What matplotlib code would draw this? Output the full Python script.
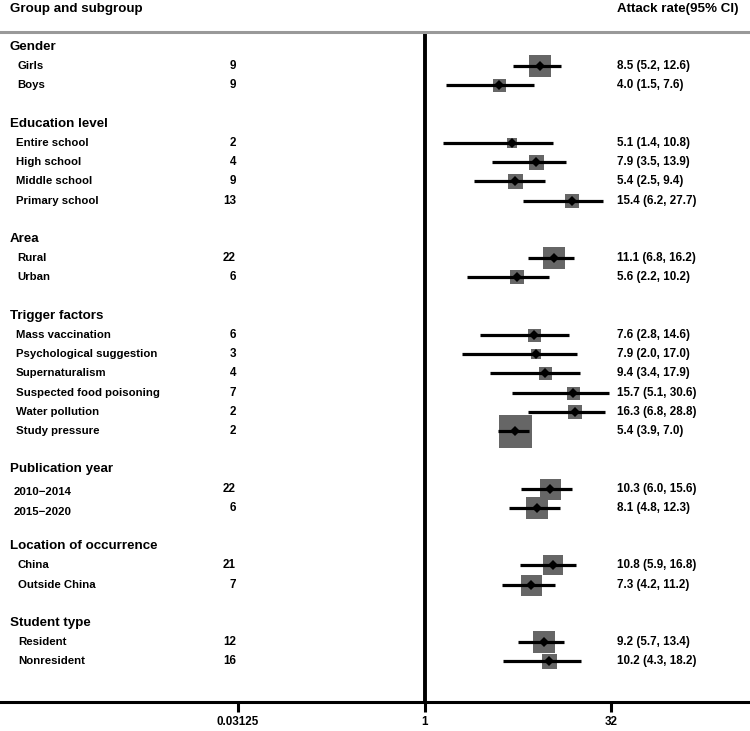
import numpy as np
import matplotlib
matplotlib.use("Agg")
import matplotlib.pyplot as plt

# ---------------- data ----------------
groups = ["Gender", "Education level", "Area", "Trigger factors",
          "Publication year", "Location of occurrence", "Student type"]
group_sizes = [2, 4, 2, 6, 2, 2, 2]
subgroups = ["Girls", "Boys",
             "Entire school", "High school", "Middle school", "Primary school",
             "Rural", "Urban",
             "Mass vaccination", "Psychological suggestion", "Supernaturalism",
             "Suspected food poisoning", "Water pollution", "Study pressure",
             "2010\u22122014", "2015\u22122020",
             "China", "Outside China",
             "Resident", "Nonresident"]
n_studies = [9, 9, 2, 4, 9, 13, 22, 6, 6, 3, 4, 7, 2, 2, 22, 6, 21, 7, 12, 16]
rate = [8.5, 4.0, 5.1, 7.9, 5.4, 15.4, 11.1, 5.6, 7.6, 7.9, 9.4, 15.7, 16.3,
        5.4, 10.3, 8.1, 10.8, 7.3, 9.2, 10.2]
lower = [5.2, 1.5, 1.4, 3.5, 2.5, 6.2, 6.8, 2.2, 2.8, 2.0, 3.4, 5.1, 6.8,
         3.9, 6.0, 4.8, 5.9, 4.2, 5.7, 4.3]
upper = [12.6, 7.6, 10.8, 13.9, 9.4, 27.7, 16.2, 10.2, 14.6, 17.0, 17.9, 30.6,
         28.8, 7.0, 15.6, 12.3, 16.8, 11.2, 13.4, 18.2]
weights = [22, 13, 10, 15, 15, 14, 23, 14, 13, 10, 13, 13, 14, 33, 21, 22,
           20, 21, 23, 15]
x_ticks = [0.03125, 1, 32]
x_ticklabels = ["0.03125", "1", "32"]

# ---------------- layout ----------------
W, H = 750, 731
fig = plt.figure(figsize=(W / 100, H / 100), dpi=100)
FONT = "Liberation Sans"
plt.rcParams["font.family"] = [FONT, "DejaVu Sans"]

top_px, bot_px = 32, 702
row_px, row0_px = 19.2, 47
ax = fig.add_axes([0, (H - bot_px) / H, 1, (bot_px - top_px) / H])
ax.set_xscale("log", base=2)
ppu = 37.3          # pixels per doubling
x1_px = 424.5       # pixel position of x=1
ax.set_xlim(2 ** ((0 - x1_px) / ppu), 2 ** ((W - x1_px) / ppu))
ax.set_ylim((bot_px - row0_px) / row_px, (top_px - row0_px) / row_px)

# row indices
header_rows, item_rows, item_group = [], [], []
r = 0
for gi, size in enumerate(group_sizes):
    header_rows.append(r)
    for k in range(size):
        item_rows.append(r + 1 + k)
        item_group.append(gi)
    r += size + 2

tr = ax.get_yaxis_transform()
px = lambda p: p / W

label_x = [17, 16, 17, 16, 14, 18, 18]
label_dy = [0, 0, 0, 0, 0.2, 0, 0]

for g, yr in zip(groups, header_rows):
    ax.text(px(10), yr, g, transform=tr, ha="left", va="center",
            fontsize=9.6, fontweight="bold")

for i, yr in enumerate(item_rows):
    gi = item_group[i]
    ax.text(px(label_x[gi]), yr + label_dy[gi], subgroups[i], transform=tr,
            ha="left", va="center", fontsize=8.2, fontweight="bold")
    ax.text(px(236), yr, str(n_studies[i]), transform=tr, ha="right",
            va="center", fontsize=8.4, fontweight="bold")
    ax.text(px(617), yr, f"{rate[i]:.1f} ({lower[i]:.1f}, {upper[i]:.1f})",
            transform=tr, ha="left", va="center", fontsize=8.4,
            fontweight="bold")
    ax.plot(rate[i], yr, marker="s", markersize=weights[i] * 0.72,
            color="#666666", mew=0, zorder=2)
    ax.plot([lower[i], upper[i]], [yr, yr], color="black", lw=2.3,
            solid_capstyle="butt", zorder=3)
    ax.plot(rate[i], yr, marker="D", markersize=4.6, color="black", mew=0,
            zorder=4)

ax.axvline(1, color="black", lw=2.8, zorder=1)

for s in ["left", "right"]:
    ax.spines[s].set_visible(False)
ax.spines["top"].set_color("#999999")
ax.spines["top"].set_linewidth(2.2)
ax.spines["bottom"].set_color("black")
ax.spines["bottom"].set_linewidth(2.2)
ax.set_yticks([])
ax.set_xticks(x_ticks)
ax.set_xticklabels(x_ticklabels, fontsize=8.4, fontweight="bold")
ax.xaxis.set_minor_locator(matplotlib.ticker.NullLocator())
ax.tick_params(axis="x", direction="out", length=7, width=2.2, pad=3)

fig.text(px(10), 1 - 9 / H, "Group and subgroup", ha="left", va="center",
         fontsize=9.6, fontweight="bold")
fig.text(px(617), 1 - 9 / H, "Attack rate(95% CI)", ha="left", va="center",
         fontsize=9.6, fontweight="bold")

fig.savefig("out.png", dpi=100)
